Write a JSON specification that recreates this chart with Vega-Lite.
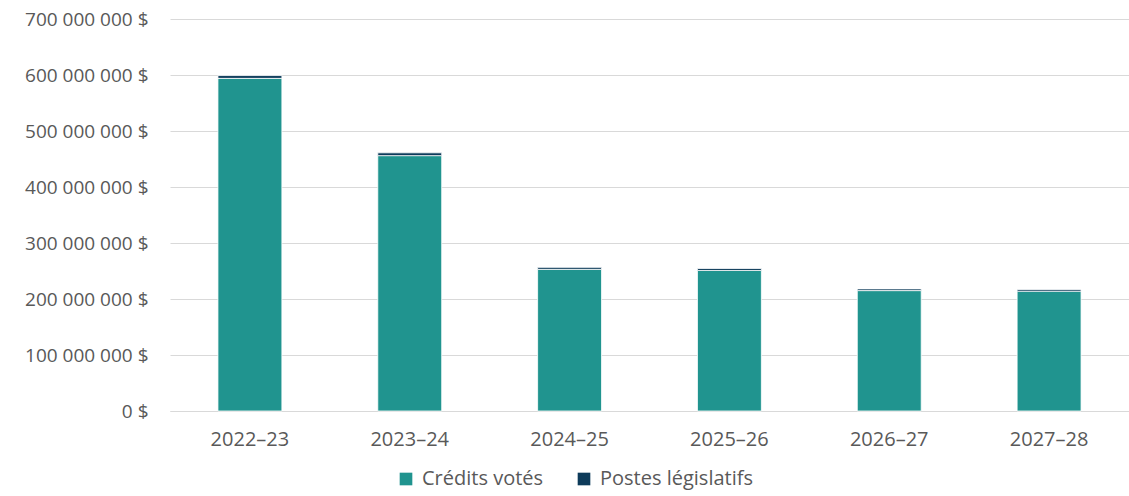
{
  "$schema": "https://vega.github.io/schema/vega-lite/v6.json",
  "autosize": "none",
  "width": 959,
  "height": 392,
  "padding": {"left": 170, "top": 19, "right": 0, "bottom": 85},
  "config": {
    "locale": {
      "number": {"decimal": ",", "thousands": " ", "grouping": [3], "currency": ["", " $"]}
    },
    "view": {"stroke": null},
    "axis": {"labelFont": "Open Sans", "labelColor": "#595959", "labelFontSize": 19},
    "legend": {"labelFont": "Open Sans", "labelColor": "#595959", "labelFontSize": 20}
  },
  "data": {
    "values": [
      {"annee": "2022–23", "type": "Crédits votés", "montant": 594000000},
      {"annee": "2022–23", "type": "Postes législatifs", "montant": 5000000},
      {"annee": "2023–24", "type": "Crédits votés", "montant": 456000000},
      {"annee": "2023–24", "type": "Postes législatifs", "montant": 5000000},
      {"annee": "2024–25", "type": "Crédits votés", "montant": 253000000},
      {"annee": "2024–25", "type": "Postes législatifs", "montant": 3500000},
      {"annee": "2025–26", "type": "Crédits votés", "montant": 251000000},
      {"annee": "2025–26", "type": "Postes législatifs", "montant": 3500000},
      {"annee": "2026–27", "type": "Crédits votés", "montant": 215000000},
      {"annee": "2026–27", "type": "Postes législatifs", "montant": 3000000},
      {"annee": "2027–28", "type": "Crédits votés", "montant": 214000000},
      {"annee": "2027–28", "type": "Postes législatifs", "montant": 3000000}
    ]
  },
  "mark": {"type": "bar", "stroke": "white", "strokeWidth": 0.8},
  "encoding": {
    "x": {
      "field": "annee",
      "type": "nominal",
      "title": null,
      "sort": null,
      "scale": {"paddingInner": 0.6, "paddingOuter": 0.3},
      "axis": {
        "labelAngle": 0,
        "labelFontSize": 20,
        "labelPadding": 18,
        "ticks": false,
        "domainColor": "#D9D9D9",
        "grid": false
      }
    },
    "y": {
      "field": "montant",
      "type": "quantitative",
      "title": null,
      "stack": "zero",
      "scale": {"domain": [0, 700000000]},
      "axis": {
        "values": [0, 100000000, 200000000, 300000000, 400000000, 500000000, 600000000, 700000000],
        "format": "$,.0f",
        "ticks": false,
        "domain": false,
        "labelPadding": 22,
        "gridColor": "#D9D9D9"
      }
    },
    "color": {
      "field": "type",
      "type": "nominal",
      "title": null,
      "scale": {
        "domain": ["Crédits votés", "Postes législatifs"],
        "range": ["#20948F", "#0D3B5A"]
      },
      "legend": {
        "orient": "none",
        "legendX": 226,
        "legendY": 450,
        "direction": "horizontal",
        "symbolType": "square",
        "symbolStrokeWidth": 0,
        "symbolSize": 160,
        "labelOffset": 6,
        "columnPadding": 30
      }
    },
    "order": {"field": "type", "sort": "ascending"}
  }
}
